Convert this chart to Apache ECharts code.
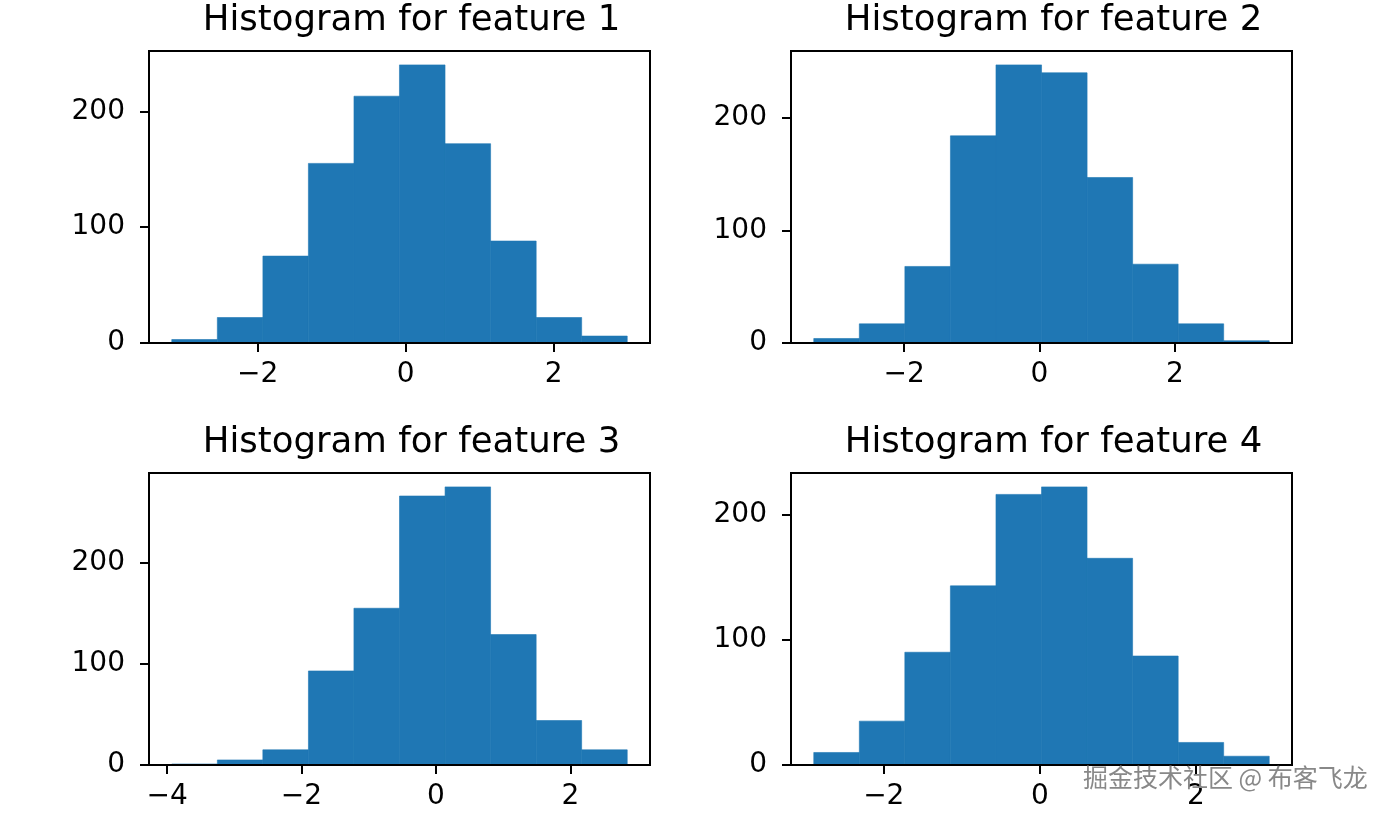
<!DOCTYPE html>
<html>
<head>
<meta charset="utf-8">
<script src="https://cdn.jsdelivr.net/npm/echarts@6/dist/echarts.min.js"></script>
<style>
html,body{margin:0;padding:0;background:#fff;}
#chart{width:1391px;height:815px;}
</style>
</head>
<body>
<div id="chart"></div>
<script>
// ---- data ----
const titles = ['Histogram for feature 1', 'Histogram for feature 2', 'Histogram for feature 3', 'Histogram for feature 4'];

const edges1 = [-3.162, -2.546, -1.930, -1.315, -0.699, -0.084, 0.532, 1.148, 1.764, 2.379, 2.995];
const counts1 = [3, 22, 75, 155, 213, 240, 172, 88, 22, 6];

const edges2 = [-3.335, -2.662, -1.989, -1.316, -0.643, 0.030, 0.703, 1.376, 2.048, 2.721, 3.394];
const counts2 = [4, 17, 68, 184, 247, 240, 147, 70, 17, 2];

const edges3 = [-3.930, -3.252, -2.575, -1.897, -1.220, -0.542, 0.136, 0.813, 1.491, 2.168, 2.846];
const counts3 = [1, 5, 15, 93, 155, 266, 275, 129, 44, 15];

const edges4 = [-2.897, -2.313, -1.730, -1.146, -0.562, 0.022, 0.605, 1.189, 1.773, 2.356, 2.940];
const counts4 = [10, 35, 90, 143, 216, 222, 165, 87, 18, 7];

const xTicks1 = [-2, 0, 2];
const xTicks2 = [-2, 0, 2];
const xTicks3 = [-4, -2, 0, 2];
const xTicks4 = [-2, 0, 2];
const yTicks = [0, 100, 200];

const watermark = '掘金技术社区 @ 布客飞龙';

// ---- layout ----
const panels = [
  {edges: edges1, counts: counts1, xTicks: xTicks1, left: 149, top: 51},
  {edges: edges2, counts: counts2, xTicks: xTicks2, left: 791, top: 51},
  {edges: edges3, counts: counts3, xTicks: xTicks3, left: 149, top: 473},
  {edges: edges4, counts: counts4, xTicks: xTicks4, left: 791, top: 473}
];
const W = 501, H = 292;
const FONT = 'DejaVu Sans';
const BLUE = '#1f77b4';

const grid = [], xAxis = [], yAxis = [], series = [], graphic = [];
const minus = v => String(v).replace('-', '\u2212');

panels.forEach((p, i) => {
  const lo = p.edges[0], hi = p.edges[p.edges.length - 1];
  const pad = (hi - lo) * 0.05;
  const ymax = Math.max(...p.counts) * 1.05;
  grid.push({left: p.left, top: p.top, width: W, height: H, show: true,
    borderColor: '#000', borderWidth: 2, backgroundColor: 'transparent'});
  xAxis.push({
    type: 'value', gridIndex: i, min: lo - pad, max: hi + pad, z: 5,
    axisLine: {show: true, onZero: false, lineStyle: {color: '#000', width: 2}},
    axisTick: {show: true, length: 9, lineStyle: {color: '#000', width: 2}, customValues: p.xTicks},
    axisLabel: {customValues: p.xTicks, fontSize: 28, color: '#000', fontFamily: FONT, margin: 18,
      formatter: minus},
    splitLine: {show: false}
  });
  yAxis.push({
    type: 'value', gridIndex: i, min: 0, max: ymax, z: 5,
    axisLine: {show: true, onZero: false, lineStyle: {color: '#000', width: 2}},
    axisTick: {show: true, length: 9, lineStyle: {color: '#000', width: 2}, customValues: yTicks},
    axisLabel: {customValues: yTicks, fontSize: 28, color: '#000', fontFamily: FONT, margin: 24},
    splitLine: {show: false}
  });
  const data = p.counts.map((c, k) => [p.edges[k], p.edges[k + 1], c]);
  series.push({
    type: 'custom', xAxisIndex: i, yAxisIndex: i, data: data, z: 2,
    encode: {x: [0, 1], y: 2},
    renderItem: function (params, api) {
      const a = api.coord([api.value(0), api.value(2)]);
      const b = api.coord([api.value(1), 0]);
      return {type: 'rect', shape: {x: a[0], y: a[1], width: b[0] - a[0], height: b[1] - a[1]},
        style: {fill: BLUE, stroke: BLUE, lineWidth: 0.6}};
    }
  });
  graphic.push({type: 'text', x: p.left + W / 2 + 12, y: p.top - 30, z: 10,
    style: {text: titles[i], font: '35.5px "' + FONT + '"', fill: '#000', align: 'center', verticalAlign: 'middle'}});
});

graphic.push({type: 'text', x: 1083, y: 777, z: 100,
  style: {text: watermark, font: '25px "Noto Sans CJK SC"', fill: '#888888', align: 'left', verticalAlign: 'middle'}});

const chart = echarts.init(document.getElementById('chart'), null, {renderer: 'canvas'});
chart.setOption({animation: false, backgroundColor: '#fff', grid, xAxis, yAxis, series, graphic});
</script>
</body>
</html>
